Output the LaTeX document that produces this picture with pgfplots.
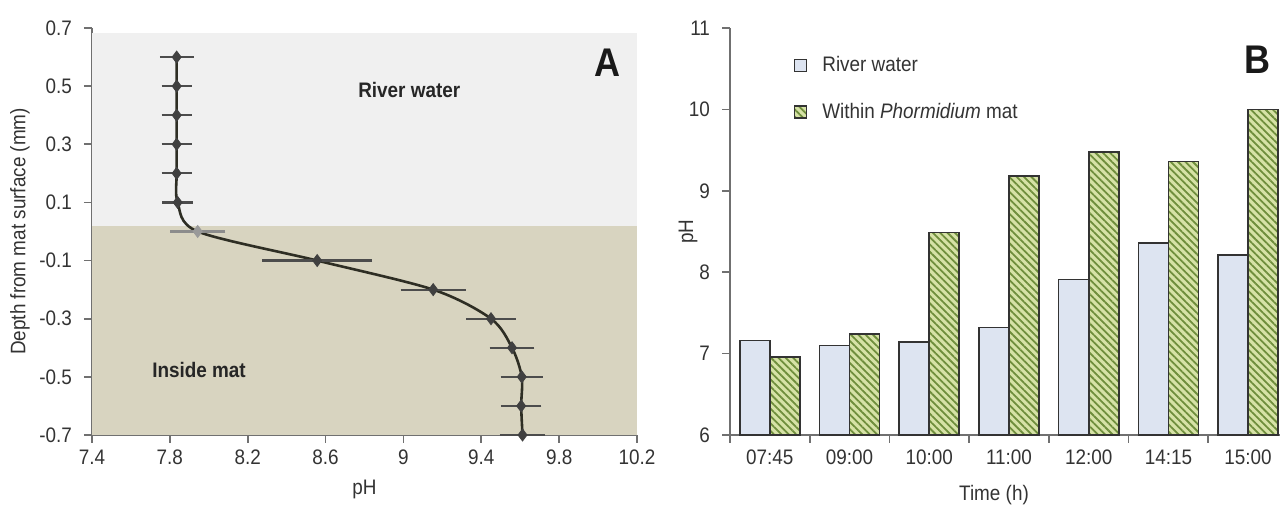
\documentclass[border=0pt]{standalone}
\usepackage{fontspec}
\setmainfont{Liberation Sans}[FakeStretch=0.9]
\usepackage{pgfplots}
\pgfplotsset{compat=1.18}
\usetikzlibrary{patterns.meta}

\definecolor{axgray}{HTML}{707070}
\definecolor{txt}{HTML}{333333}
\definecolor{water}{HTML}{F0F0F0}
\definecolor{mat}{HTML}{D8D4C0}
\definecolor{curve}{HTML}{2E2E24}
\definecolor{riverfill}{HTML}{DDE4F1}
\definecolor{greenfill}{HTML}{D6E2A6}
\definecolor{greenline}{HTML}{6F8E3C}

\pgfplotsset{
  common/.style={
    scale only axis,
    anchor=south west,
    axis x line*=bottom,
    axis y line*=left,
    axis line style={axgray, line width=0.8pt},
    tick style={axgray, line width=0.8pt},
    tick align=outside,
    major tick length=4pt,
    ticklabel style={font=\fontsize{10.5}{12}\selectfont, text=txt},
    label style={font=\fontsize{10.5}{12}\selectfont, text=txt},
    /pgf/number format/assume math mode=true,
  },
  sqlegend/.style={
    legend image code/.code={\draw[##1, line width=0.6pt] (0pt,-3pt) rectangle (6pt,3pt);}
  },
}

\begin{document}
\begin{tikzpicture}
\useasboundingbox (-46pt,-35.5pt) rectangle (594pt,217.5pt);

% panel A: depth profile
\begin{axis}[common,
  at={(0pt,0pt)}, width=272.5pt, height=203.5pt,
  xmin=7.4, xmax=10.2, ymin=-0.7, ymax=0.7,
  xtick={7.4,7.8,8.2,8.6,9,9.4,9.8,10.2},
  ytick={-0.7,-0.5,-0.3,-0.1,0.1,0.3,0.5,0.7},
  xticklabel style={/pgf/number format/fixed},
  yticklabel style={/pgf/number format/fixed, /pgf/number format/precision=1, xshift=-2.5pt},
  xlabel={pH},
  xlabel style={at={(axis description cs:0.5,-0.135)}, anchor=center},
  ylabel={Depth from mat surface (mm)},
  ylabel style={at={(axis description cs:-0.132,0.5)}, anchor=center},
  clip=false,
]
\fill[water] (axis cs:7.4,0.02) rectangle (axis cs:10.2,0.683);
\fill[mat] (axis cs:7.4,-0.7) rectangle (axis cs:10.2,0.02);

\addplot[curve, line width=1.3pt, smooth, tension=0.5, no marks] table {
x y
7.835 0.6
7.835 0.5
7.835 0.4
7.835 0.3
7.835 0.2
7.840 0.1
7.943 0.0
8.557 -0.1
9.153 -0.2
9.450 -0.3
9.558 -0.4
9.608 -0.5
9.605 -0.6
9.612 -0.7
};

\addplot[only marks, mark=diamond*, mark size=3pt, color=black!75,
  error bars/.cd, x dir=both, x explicit,
  error bar style={black!70, line width=1.1pt},
  error mark options={black!70, line width=1.1pt, mark size=2.8pt}]
table[x=x, y=y, x error=e] {
x y e
7.835 0.6 0.058
7.835 0.5 0.048
7.835 0.4 0.048
7.835 0.3 0.048
7.835 0.2 0.048
7.840 0.1 0.050
8.557 -0.1 0.253
9.153 -0.2 0.139
9.450 -0.3 0.099
9.558 -0.4 0.086
9.608 -0.5 0.080
9.605 -0.6 0.075
9.612 -0.7 0.088
};

\addplot[only marks, mark=diamond*, mark size=3pt, color=black!40,
  error bars/.cd, x dir=both, x explicit,
  error bar style={black!45, line width=1.1pt},
  error mark options={black!45, line width=1.1pt, mark size=2.8pt}]
table[x=x, y=y, x error=e] {
x y e
7.943 0.0 0.113
};

\node[font=\bfseries\fontsize{10.5}{12}\selectfont, text=black!85] at (axis cs:9.03,0.487) {River water};
\node[font=\bfseries\fontsize{10.5}{12}\selectfont, text=black!85] at (axis cs:7.95,-0.476) {Inside mat};
\node[font=\bfseries\fontsize{20}{22}\selectfont, text=black!90] at (axis cs:10.05,0.58) {A};
\end{axis}

% panel B: pH over the day
\begin{axis}[common,
  at={(319pt,0pt)}, width=275pt, height=203.5pt,
  xmin=-0.5, xmax=6.4, ymin=6, ymax=11,
  ytick={6,7,8,9,10,11},
  yticklabel style={xshift=-2.5pt},
  xtick={0,1,2,3,4,5,6},
  xticklabels={07:45,09:00,10:00,11:00,12:00,14:15,15:00},
  major x tick style={draw=none},
  minor xtick={-0.5,0.5,1.5,2.5,3.5,4.5,5.5},
  minor tick length=4pt,
  minor tick style={axgray, line width=0.8pt},
  ybar=0pt, bar width=15pt,
  xlabel={Time (h)},
  xlabel style={at={(axis description cs:0.48,-0.147)}, anchor=center},
  ylabel={pH},
  ylabel style={at={(axis description cs:-0.076,0.5)}, anchor=center},
  legend style={draw=none, fill=none, at={(0.105,0.95)}, anchor=north west,
    font=\fontsize{10.5}{12}\selectfont, text=txt, row sep=10pt,
    /tikz/every odd column/.append style={column sep=5.5pt}},
  legend cell align=left,
  clip=false,
]
\addplot[sqlegend, draw=black!80, line width=0.8pt, fill=riverfill]
coordinates {(0,7.16) (1,7.10) (2,7.14) (3,7.32) (4,7.91) (5,8.36) (6,8.21)};
\addlegendentry{River water}

\addplot[sqlegend, draw=black!80, line width=0.8pt, fill=greenfill,
  postaction={pattern={Lines[angle=-45,distance=2.6pt,line width=0.9pt]}, pattern color=greenline}]
coordinates {(0,6.96) (1,7.24) (2,8.49) (3,9.18) (4,9.48) (5,9.36) (6,10.0)};
\addlegendentry{Within \textit{Phormidium} mat}

\node[font=\bfseries\fontsize{20}{22}\selectfont, text=black!90] at (axis cs:6.12,10.61) {B};
\end{axis}
\end{tikzpicture}
\end{document}
